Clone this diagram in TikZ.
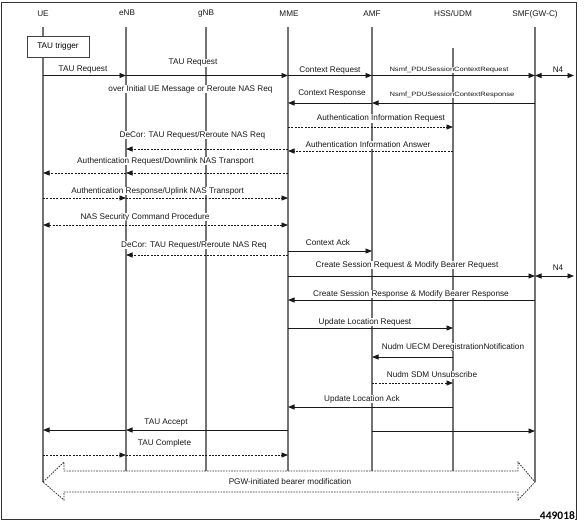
\documentclass[tikz,border=0pt]{standalone}
\usepackage{fontspec}
\setmainfont{Liberation Sans}
\newfontfamily\numfont{Carlito}
\usetikzlibrary{arrows.meta}
\begin{document}
\begin{tikzpicture}[x=1pt,y=-1pt,
  life/.style={draw=black!55, line width=1.1pt},
  msg/.style={draw=black!90, line width=0.8pt, -{Triangle[length=6.5pt,width=5pt]}},
  dmsg/.style={msg, dash pattern=on 2pt off 1.3pt},
  dbl/.style={draw=black!90, line width=0.8pt, {Triangle[length=6.5pt,width=5pt]}-{Triangle[length=6.5pt,width=5pt]}},
  lbl/.style={font=\fontsize{8.2}{9}\selectfont, fill=white, inner sep=0.6pt, text=black!90},
  slbl/.style={font=\fontsize{6.2}{7}\selectfont, fill=white, inner sep=0.5pt, text=black!90},
  hdr/.style={font=\fontsize{8.2}{9}\selectfont, inner sep=1pt, text=black!90}]
\useasboundingbox (0,0) rectangle (584,523);
\draw[black!80, line width=1pt] (1.5,2) rectangle (576,519);
% headers
\node[hdr] (ueH) at (43,14) {UE};
\node[hdr] (enbH) at (127,13) {eNB};
\node[hdr] (gnbH) at (206,13.5) {gNB};
\node[hdr] (mmeH) at (289,14) {MME};
\node[hdr] (amfH) at (372,14) {AMF};
\node[hdr] (hssH) at (453,14) {HSS/UDM};
\node[hdr] (smfH) at (535,14) {SMF(GW-C)};
% lifeline coordinates
\coordinate (ue) at (43,27);   \coordinate (ueE) at (43,482);
\coordinate (enb) at (126,27); \coordinate (enbE) at (126,471);
\coordinate (gnb) at (206,27); \coordinate (gnbE) at (206,471);
\coordinate (mme) at (288,27); \coordinate (mmeE) at (288,471);
\coordinate (amf) at (372,27); \coordinate (amfE) at (372,471);
\coordinate (hss) at (453,48); \coordinate (hssE) at (453,471);
\coordinate (smf) at (535,27); \coordinate (smfE) at (535,482);
\coordinate (n4) at (574,27);
\draw[life] (ue) -- (ueE);
\draw[life] (enb) -- (enbE);
\draw[life] (gnb) -- (gnbE);
\draw[life] (mme) -- (mmeE);
\draw[life] (amf) -- (amfE);
\draw[life] (hss) -- (hssE);
\draw[life] (smf) -- (smfE);
% TAU trigger box
\node[draw=black!75, line width=0.8pt, fill=white, minimum width=62pt, minimum height=21pt, font=\fontsize{8.2}{9}\selectfont] (trig) at (58,46.5) {TAU trigger};
% labels
\node[lbl] (l1) at (83,70) {TAU Request};
\node[lbl] (l2) at (193,63) {TAU Request};
\node[lbl] (l3) at (190.5,89) {over Initial UE Message or Reroute NAS Req};
\node[lbl] (l4) at (330,70) {Context Request};
\node[slbl] (l5) at (449,70) {\scalebox{1.22}[1]{Nsmf\_PDUSessionContextRequest}};
\node[lbl] (l6) at (558,69.5) {N4};
\node[lbl] (l7) at (332,93.5) {Context Response};
\node[slbl] (l8) at (452,95) {\scalebox{1.22}[1]{Nsmf\_PDUSessionContextResponse}};
\node[lbl] (l9) at (381,118.5) {Authentication Information Request};
\node[lbl] (l10) at (368,145) {Authentication Information Answer};
\node[lbl] (l11) at (192.5,135) {DeCor: TAU Request/Reroute NAS Req};
\node[lbl] (l12) at (165.5,161) {Authentication Request/Downlink NAS Transport};
\node[lbl] (l13) at (157.7,191) {Authentication Response/Uplink NAS Transport};
\node[lbl] (l14) at (145,217) {NAS Security Command Procedure};
\node[lbl] (l15) at (194,245) {DeCor: TAU Request/Reroute NAS Req};
\node[lbl] (l16) at (328,243) {Context Ack};
\node[lbl] (l17) at (407,265) {Create Session Request \& Modify Bearer Request};
\node[lbl] (l18) at (558,268) {N4};
\node[lbl] (l19) at (411,294) {Create Session Response \& Modify Bearer Response};
\node[lbl] (l20) at (365,322) {Update Location Request};
\node[lbl] (l21) at (453,347) {Nudm UECM DeregistrationNotification};
\node[lbl] (l22) at (432,375) {Nudm SDM Unsubscribe};
\node[lbl] (l23) at (362,399) {Update Location Ack};
\node[lbl] (l24) at (166,423) {TAU Accept};
\node[lbl] (l25) at (164.5,443) {TAU Complete};
% messages
\draw[msg] (ue |- 0,75.5) -- (enb |- 0,75.5);
\draw[msg] (enb |- 0,75.5) -- (mme |- 0,75.5);
\draw[msg] (mme |- 0,75.5) -- (amf |- 0,75.5);
\draw[msg] (amf |- 0,75.5) -- (smf |- 0,75.5);
\draw[dbl] (smf |- 0,75.5) -- (n4 |- 0,75.5);
\draw[msg] (amf |- 0,103) -- (mme |- 0,103);
\draw[msg] (smf |- 0,103) -- (amf |- 0,103);
\draw[dmsg] (mme |- 0,127) -- (hss |- 0,127);
\draw[dmsg] (mme |- 0,149) -- (enb |- 0,149);
\draw[dmsg] (hss |- 0,151) -- (mme |- 0,151);
\draw[dmsg] (mme |- 0,173) -- (enb |- 0,173);
\draw[dmsg] (enb |- 0,173) -- (ue |- 0,173);
\draw[dmsg] (ue |- 0,198) -- (enb |- 0,198);
\draw[dmsg] (enb |- 0,198) -- (mme |- 0,198);
\draw[dbl, dash pattern=on 2pt off 1.3pt] (ue |- 0,225) -- (mme |- 0,225);
\draw[msg] (mme |- 0,251) -- (amf |- 0,251);
\draw[dmsg] (mme |- 0,255) -- (enb |- 0,255);
\draw[msg] (mme |- 0,276) -- (smf |- 0,276);
\draw[dbl] (smf |- 0,276) -- (n4 |- 0,276);
\draw[msg] (smf |- 0,300) -- (mme |- 0,300);
\draw[msg] (mme |- 0,328) -- (hss |- 0,328);
\draw[msg] (hss |- 0,357) -- (amf |- 0,357);
\draw[dmsg] (amf |- 0,383) -- (hss |- 0,383);
\draw[msg] (hss |- 0,407) -- (mme |- 0,407);
\draw[msg] (mme |- 0,430) -- (enb |- 0,430);
\draw[msg] (enb |- 0,430) -- (ue |- 0,430);
\draw[msg] (amf |- 0,431) -- (smf |- 0,431);
\draw[dmsg] (ue |- 0,455) -- (enb |- 0,455);
\draw[dmsg] (enb |- 0,455) -- (mme |- 0,455);
% block arrow
\draw[black!80, line width=0.8pt, dash pattern=on 1.6pt off 1.1pt, fill=white]
  (ueE) -- (64,462) -- (64,471) -- (518,471) -- (518,462) -- (smfE)
  -- (518,500) -- (518,492) -- (64,492) -- (64,500) -- cycle;
\node[font=\fontsize{8.2}{9}\selectfont, inner sep=0.5pt, text=black!90] (pgw) at (290,482) {PGW-initiated bearer modification};
% figure number
\node[font=\numfont\bfseries\fontsize{11.5}{12}\selectfont, anchor=south east, inner sep=0.4pt, fill=white] (num) at (575.5,520) {449018};
\end{tikzpicture}
\end{document}
